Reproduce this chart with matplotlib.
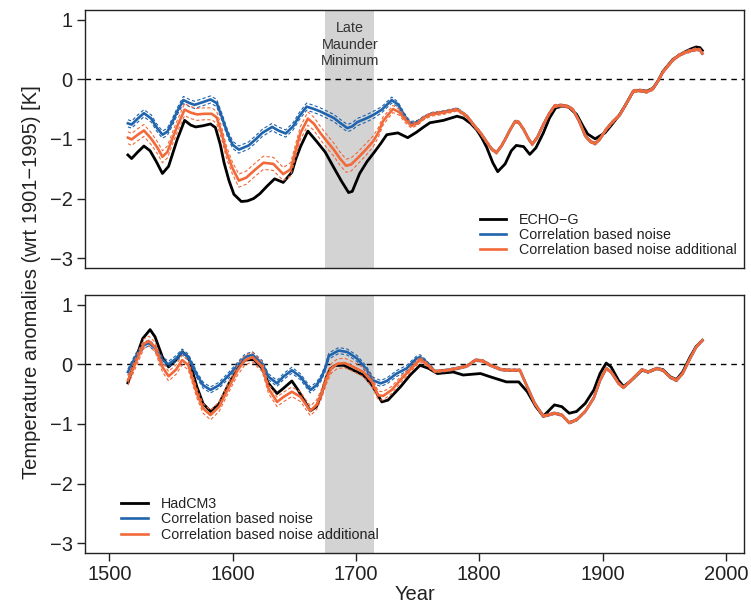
import matplotlib
matplotlib.use("Agg")
import matplotlib.pyplot as plt
import numpy as np

plt.rcParams['font.family'] = ['Liberation Sans', 'DejaVu Sans']

# ---- top panel: ECHO-G ----
echo_years = [1515, 1518, 1523, 1528, 1533, 1538, 1543, 1548, 1555, 1561,
              1566, 1570, 1576, 1582, 1586, 1590, 1593, 1597, 1601, 1607,
              1612, 1617, 1622, 1628, 1634, 1641, 1648, 1651, 1655, 1661,
              1668, 1675, 1682, 1688, 1694, 1697, 1703, 1709, 1715, 1720,
              1725, 1734, 1742, 1749, 1755, 1760, 1771, 1782, 1787, 1793,
              1798, 1802, 1806, 1811, 1815, 1821, 1826, 1830, 1836, 1841,
              1846, 1852, 1857, 1862, 1868, 1872, 1879, 1884, 1888, 1894,
              1902, 1908, 1914, 1919, 1925, 1930, 1936, 1941, 1945, 1949,
              1957, 1962, 1967, 1972, 1976, 1979, 1981]
echo_temp = [-1.27, -1.33, -1.22, -1.12, -1.20, -1.38, -1.58, -1.46, -1.01, -0.69,
             -0.77, -0.80, -0.78, -0.75, -0.81, -1.10, -1.40, -1.70, -1.93, -2.05,
             -2.04, -2.00, -1.92, -1.79, -1.67, -1.73, -1.56, -1.35, -1.13, -0.87,
             -1.04, -1.22, -1.48, -1.70, -1.90, -1.88, -1.58, -1.38, -1.22, -1.08,
             -0.93, -0.90, -0.98, -0.89, -0.80, -0.73, -0.69, -0.62, -0.65, -0.74,
             -0.85, -0.98, -1.14, -1.40, -1.55, -1.42, -1.20, -1.11, -1.13, -1.26,
             -1.15, -0.90, -0.65, -0.48, -0.45, -0.46, -0.59, -0.78, -0.92, -1.00,
             -0.90, -0.75, -0.59, -0.42, -0.20, -0.19, -0.20, -0.15, -0.03, 0.13,
             0.33, 0.40, 0.46, 0.51, 0.54, 0.53, 0.48]

echo_corr_years = [1515, 1518, 1523, 1528, 1534, 1538, 1543, 1547, 1551, 1555,
                   1560, 1565, 1569, 1575, 1582, 1587, 1591, 1596, 1600, 1605,
                   1613, 1619, 1624, 1632, 1637, 1643, 1649, 1654, 1660, 1666,
                   1671, 1677, 1682, 1687, 1693, 1697, 1701, 1708, 1714, 1721,
                   1725, 1729, 1734, 1739, 1744, 1750, 1755, 1761, 1771, 1782,
                   1790, 1796, 1801, 1806, 1810, 1814, 1818, 1821, 1825, 1829,
                   1832, 1836, 1840, 1843, 1847, 1852, 1857, 1861, 1867, 1872,
                   1876, 1881, 1886, 1890, 1894, 1898, 1903, 1908, 1914, 1919,
                   1925, 1930, 1936, 1941, 1945, 1949, 1957, 1962, 1967, 1972,
                   1976, 1979, 1981]
echo_corr = [-0.74, -0.76, -0.66, -0.57, -0.66, -0.80, -0.93, -0.88, -0.72, -0.54,
             -0.35, -0.40, -0.43, -0.39, -0.34, -0.40, -0.62, -0.92, -1.10, -1.18,
             -1.11, -1.00, -0.90, -0.80, -0.86, -0.91, -0.79, -0.62, -0.46, -0.50,
             -0.54, -0.60, -0.65, -0.73, -0.82, -0.79, -0.72, -0.66, -0.60, -0.51,
             -0.43, -0.35, -0.42, -0.60, -0.74, -0.72, -0.64, -0.58, -0.55, -0.50,
             -0.62, -0.78, -0.90, -1.05, -1.17, -1.23, -1.12, -1.01, -0.85, -0.71,
             -0.72, -0.84, -1.00, -1.09, -0.98, -0.76, -0.57, -0.45, -0.44, -0.46,
             -0.51, -0.70, -0.95, -1.04, -1.08, -1.00, -0.84, -0.72, -0.60, -0.42,
             -0.20, -0.19, -0.21, -0.16, -0.03, 0.12, 0.32, 0.40, 0.45, 0.48,
             0.50, 0.49, 0.43]
echo_corr_sd = [0.06, 0.06, 0.06, 0.06, 0.06, 0.06, 0.06, 0.06, 0.06, 0.06,
                0.06, 0.06, 0.06, 0.06, 0.06, 0.06, 0.06, 0.06, 0.06, 0.06,
                0.06, 0.06, 0.06, 0.06, 0.06, 0.06, 0.06, 0.06, 0.06, 0.06,
                0.06, 0.06, 0.06, 0.06, 0.06, 0.06, 0.06, 0.06, 0.06, 0.05,
                0.05, 0.05, 0.04, 0.04, 0.03, 0.03, 0.02, 0.02, 0.02, 0.02,
                0.02, 0.02, 0.02, 0.02, 0.02, 0.02, 0.02, 0.02, 0.02, 0.02,
                0.02, 0.02, 0.02, 0.02, 0.02, 0.02, 0.02, 0.02, 0.02, 0.02,
                0.02, 0.02, 0.02, 0.02, 0.02, 0.02, 0.02, 0.02, 0.02, 0.02,
                0.02, 0.02, 0.02, 0.02, 0.02, 0.02, 0.02, 0.02, 0.02, 0.02,
                0.02, 0.02, 0.02]

echo_add_years = [1515, 1518, 1523, 1528, 1534, 1539, 1543, 1547, 1551, 1555,
                  1561, 1566, 1571, 1577, 1583, 1587, 1591, 1595, 1600, 1605,
                  1611, 1618, 1625, 1633, 1641, 1647, 1651, 1655, 1661, 1666,
                  1671, 1676, 1682, 1687, 1692, 1696, 1701, 1708, 1714, 1718,
                  1722, 1726, 1730, 1735, 1740, 1745, 1750, 1755, 1761, 1771,
                  1782, 1790, 1796, 1801, 1806, 1810, 1814, 1818, 1821, 1825,
                  1829, 1832, 1836, 1840, 1843, 1847, 1852, 1857, 1861, 1867,
                  1872, 1876, 1881, 1886, 1890, 1894, 1898, 1903, 1908, 1914,
                  1919, 1925, 1930, 1936, 1941, 1945, 1949, 1957, 1962, 1967,
                  1972, 1976, 1979, 1981]
echo_add = [-0.98, -1.01, -0.93, -0.86, -1.00, -1.15, -1.30, -1.22, -1.00, -0.79,
            -0.51, -0.56, -0.59, -0.58, -0.58, -0.64, -0.90, -1.23, -1.50, -1.70,
            -1.65, -1.52, -1.40, -1.42, -1.59, -1.51, -1.20, -0.90, -0.66, -0.75,
            -0.90, -1.03, -1.18, -1.33, -1.45, -1.43, -1.33, -1.18, -1.04, -0.90,
            -0.70, -0.60, -0.50, -0.55, -0.68, -0.78, -0.74, -0.65, -0.59, -0.56,
            -0.51, -0.62, -0.78, -0.90, -1.05, -1.17, -1.23, -1.12, -1.01, -0.85,
            -0.71, -0.72, -0.84, -1.00, -1.09, -0.98, -0.76, -0.57, -0.45, -0.44,
            -0.46, -0.51, -0.70, -0.95, -1.04, -1.08, -1.00, -0.84, -0.72, -0.60,
            -0.42, -0.20, -0.19, -0.21, -0.16, -0.03, 0.12, 0.32, 0.40, 0.45,
            0.48, 0.50, 0.49, 0.43]
echo_add_sd = [0.10, 0.10, 0.10, 0.10, 0.10, 0.10, 0.10, 0.10, 0.10, 0.10,
               0.10, 0.10, 0.10, 0.10, 0.10, 0.10, 0.10, 0.10, 0.10, 0.11,
               0.11, 0.11, 0.11, 0.11, 0.11, 0.11, 0.11, 0.11, 0.11, 0.11,
               0.11, 0.11, 0.11, 0.11, 0.11, 0.11, 0.10, 0.10, 0.09, 0.08,
               0.07, 0.06, 0.06, 0.05, 0.05, 0.04, 0.03, 0.03, 0.03, 0.03,
               0.025, 0.025, 0.025, 0.025, 0.025, 0.025, 0.025, 0.025, 0.025, 0.025,
               0.025, 0.025, 0.025, 0.025, 0.025, 0.025, 0.025, 0.025, 0.025, 0.025,
               0.025, 0.025, 0.025, 0.025, 0.025, 0.025, 0.025, 0.025, 0.025, 0.025,
               0.025, 0.025, 0.025, 0.025, 0.025, 0.025, 0.025, 0.025, 0.025, 0.025,
               0.025, 0.025, 0.025, 0.025]

# ---- bottom panel: HadCM3 ----
had_years = [1515, 1521, 1527, 1533, 1537, 1543, 1548, 1554, 1559, 1564,
             1571, 1576, 1582, 1589, 1597, 1604, 1610, 1617, 1624, 1629,
             1636, 1641, 1648, 1653, 1663, 1668, 1672, 1676, 1679, 1683,
             1690, 1698, 1706, 1713, 1721, 1726, 1736, 1744, 1752, 1759,
             1766, 1779, 1787, 1801, 1809, 1822, 1832, 1839, 1846, 1852,
             1861, 1867, 1873, 1879, 1886, 1893, 1898, 1903, 1907, 1913,
             1917, 1922, 1932, 1937, 1944, 1949, 1955, 1960, 1965, 1971,
             1976, 1981]
had_temp = [-0.31, 0.07, 0.43, 0.58, 0.46, 0.12, -0.045, 0.07, 0.21, 0.12,
            -0.38, -0.66, -0.79, -0.66, -0.32, -0.07, 0.07, 0.08, -0.07, -0.32,
            -0.49, -0.405, -0.28, -0.43, -0.78, -0.71, -0.50, -0.22, -0.08, -0.02,
            -0.017, -0.10, -0.18, -0.35, -0.63, -0.60, -0.38, -0.18, -0.017, -0.07,
            -0.155, -0.13, -0.18, -0.155, -0.21, -0.295, -0.295, -0.46, -0.71, -0.87,
            -0.68, -0.71, -0.82, -0.79, -0.655, -0.43, -0.155, 0.02, -0.045, -0.27,
            -0.37, -0.295, -0.10, -0.13, -0.07, -0.09, -0.21, -0.255, -0.13, 0.12,
            0.30, 0.40]

had_corr_years = [1515, 1521, 1528, 1532, 1537, 1543, 1548, 1554, 1559, 1564,
                  1571, 1576, 1582, 1589, 1597, 1604, 1610, 1616, 1624, 1629,
                  1636, 1641, 1648, 1655, 1663, 1668, 1672, 1675, 1678, 1686,
                  1693, 1701, 1708, 1714, 1720, 1725, 1733, 1741, 1749, 1752,
                  1757, 1764, 1774, 1782, 1790, 1797, 1803, 1809, 1818, 1825,
                  1833, 1839, 1845, 1852, 1861, 1867, 1873, 1879, 1886, 1893,
                  1898, 1903, 1907, 1913, 1917, 1922, 1932, 1937, 1944, 1949,
                  1955, 1960, 1965, 1971, 1976, 1981]
had_corr = [-0.13, 0.12, 0.32, 0.355, 0.27, 0.07, 0.0, 0.095, 0.205, 0.12,
            -0.18, -0.35, -0.43, -0.35, -0.18, -0.017, 0.12, 0.16, 0.01, -0.21,
            -0.32, -0.21, -0.10, -0.21, -0.43, -0.35, -0.22, -0.07, 0.14, 0.23,
            0.205, 0.095, -0.07, -0.27, -0.32, -0.28, -0.155, -0.07, 0.095, 0.12,
            0.04, -0.12, -0.10, -0.07, -0.03, 0.07, 0.055, -0.017, -0.09, -0.10,
            -0.10, -0.38, -0.655, -0.87, -0.82, -0.85, -0.98, -0.93, -0.79, -0.56,
            -0.27, -0.07, -0.13, -0.32, -0.39, -0.295, -0.09, -0.13, -0.07, -0.10,
            -0.22, -0.27, -0.155, 0.095, 0.29, 0.40]
had_corr_sd = [0.05, 0.05, 0.05, 0.05, 0.05, 0.05, 0.05, 0.05, 0.05, 0.05,
               0.05, 0.05, 0.05, 0.05, 0.05, 0.05, 0.05, 0.05, 0.05, 0.05,
               0.05, 0.05, 0.05, 0.05, 0.05, 0.05, 0.05, 0.05, 0.05, 0.05,
               0.05, 0.05, 0.05, 0.05, 0.05, 0.05, 0.05, 0.05, 0.04, 0.04,
               0.03, 0.02, 0.02, 0.02, 0.02, 0.02, 0.02, 0.02, 0.02, 0.02,
               0.02, 0.02, 0.02, 0.02, 0.02, 0.02, 0.02, 0.02, 0.02, 0.02,
               0.02, 0.02, 0.02, 0.02, 0.02, 0.02, 0.02, 0.02, 0.02, 0.02,
               0.02, 0.02, 0.02, 0.02, 0.02, 0.02]

had_add_years = [1515, 1521, 1528, 1532, 1537, 1543, 1548, 1554, 1559, 1564,
                 1571, 1576, 1582, 1589, 1597, 1604, 1610, 1616, 1624, 1629,
                 1636, 1641, 1648, 1655, 1663, 1668, 1672, 1676, 1680, 1685,
                 1691, 1698, 1706, 1713, 1718, 1722, 1729, 1737, 1745, 1752,
                 1757, 1764, 1774, 1782, 1790, 1797, 1803, 1809, 1818, 1825,
                 1833, 1839, 1845, 1852, 1861, 1867, 1873, 1879, 1886, 1893,
                 1898, 1903, 1907, 1913, 1917, 1922, 1932, 1937, 1944, 1949,
                 1955, 1960, 1965, 1971, 1976, 1981]
had_add = [-0.27, 0.01, 0.345, 0.39, 0.29, -0.045, -0.20, -0.09, 0.07, -0.015,
           -0.49, -0.74, -0.85, -0.71, -0.38, -0.10, 0.07, 0.12, -0.045, -0.405,
           -0.63, -0.55, -0.46, -0.545, -0.78, -0.68, -0.50, -0.25, -0.07, 0.01,
           0.02, -0.045, -0.13, -0.295, -0.52, -0.53, -0.43, -0.24, -0.07, 0.08,
           0.01, -0.12, -0.10, -0.07, -0.03, 0.07, 0.055, -0.017, -0.09, -0.10,
           -0.10, -0.38, -0.655, -0.87, -0.82, -0.85, -0.98, -0.93, -0.79, -0.56,
           -0.27, -0.07, -0.13, -0.32, -0.39, -0.295, -0.09, -0.13, -0.07, -0.10,
           -0.22, -0.27, -0.155, 0.095, 0.29, 0.40]
had_add_sd = [0.08, 0.08, 0.08, 0.08, 0.08, 0.08, 0.08, 0.08, 0.08, 0.08,
              0.08, 0.08, 0.08, 0.08, 0.08, 0.08, 0.08, 0.08, 0.08, 0.08,
              0.08, 0.08, 0.08, 0.08, 0.08, 0.08, 0.08, 0.08, 0.08, 0.08,
              0.08, 0.08, 0.08, 0.08, 0.07, 0.07, 0.06, 0.05, 0.04, 0.04,
              0.03, 0.02, 0.02, 0.02, 0.02, 0.02, 0.02, 0.02, 0.02, 0.02,
              0.02, 0.02, 0.02, 0.02, 0.02, 0.02, 0.02, 0.02, 0.02, 0.02,
              0.02, 0.02, 0.02, 0.02, 0.02, 0.02, 0.02, 0.02, 0.02, 0.02,
              0.02, 0.02, 0.02, 0.02, 0.02, 0.02]

lmm_start, lmm_end = 1675, 1715
x_ticks = [1500, 1600, 1700, 1800, 1900, 2000]
y_ticks = [-3, -2, -1, 0, 1]

BLUE = '#1f64ad'
ORANGE = '#f2693a'
TXT = '#222222'


def draw_panel(ax, model_name, mx, my, cx, cy, csd, ax_x, ay, asd):
    ax.axvspan(lmm_start, lmm_end, color='#d3d3d3', lw=0, zorder=0)
    ax.axhline(0, color='black', lw=1.0, ls=(0, (4, 3.5)), zorder=1)
    ax.plot(mx, my, color='black', lw=2.0, zorder=3, label=model_name)
    cx, cy, csd = np.array(cx), np.array(cy), np.array(csd)
    for s in (1, -1):
        ax.plot(cx, cy + s * csd, color=BLUE, lw=0.8, ls=(0, (3, 2)), zorder=4)
    ax.plot(cx, cy, color=BLUE, lw=1.9, zorder=4, label='Correlation based noise')
    ax_x, ay, asd = np.array(ax_x), np.array(ay), np.array(asd)
    for s in (1, -1):
        ax.plot(ax_x, ay + s * asd, color=ORANGE, lw=0.8, ls=(0, (3, 2)), zorder=5)
    ax.plot(ax_x, ay, color=ORANGE, lw=1.9, zorder=5,
            label='Correlation based noise additional')
    ax.set_xlim(1480.2, 2014.8)
    ax.set_ylim(-3.16, 1.16)
    ax.set_yticks(y_ticks)
    ax.set_yticklabels([f'{v}'.replace('-', '\u2212') for v in y_ticks])
    for sp in ax.spines.values():
        sp.set_linewidth(1.0)
        sp.set_color('#222222')
    ax.tick_params(axis='y', length=6, width=1.0, labelsize=14.5, pad=3,
                   colors=TXT)


fig = plt.figure(figsize=(7.51, 6.06), dpi=100)
ax1 = fig.add_axes([0.1132, 0.5582, 0.8775, 0.4253])
ax2 = fig.add_axes([0.1132, 0.0875, 0.8775, 0.4257])

draw_panel(ax1, 'ECHO\u2212G', echo_years, echo_temp, echo_corr_years, echo_corr,
           echo_corr_sd, echo_add_years, echo_add, echo_add_sd)
draw_panel(ax2, 'HadCM3', had_years, had_temp, had_corr_years, had_corr,
           had_corr_sd, had_add_years, had_add, had_add_sd)

ax1.set_xticks([])
ax1.text((lmm_start + lmm_end) / 2, 0.58, 'Late\nMaunder\nMinimum', ha='center',
         va='center', fontsize=10.4, color='#333333', linespacing=1.25, zorder=6)

ax2.set_xticks(x_ticks)
ax2.tick_params(axis='x', length=6, width=1.0, labelsize=14.5, pad=3, colors=TXT)
ax2.set_xlabel('Year', fontsize=14.5, color=TXT, labelpad=0.5)

leg_kw = dict(frameon=False, fontsize=10.3, handlelength=1.85, handletextpad=0.9,
              labelspacing=0.1, borderpad=0, borderaxespad=0)
leg1 = ax1.legend(loc='lower left', bbox_to_anchor=(0.599, 0.04), **leg_kw)
leg2 = ax2.legend(loc='lower left', bbox_to_anchor=(0.055, 0.043), **leg_kw)
for leg in (leg1, leg2):
    for t in leg.get_texts():
        t.set_color(TXT)

fig.text(0.042, 0.535, 'Temperature anomalies (wrt 1901\u22121995) [K]',
         rotation=90, ha='center', va='center', fontsize=14.5, color=TXT)

fig.savefig('out.png', dpi=100)
